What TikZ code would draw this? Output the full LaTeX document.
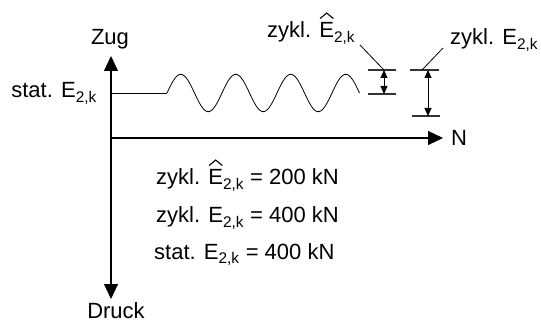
\documentclass[tikz,border=0pt]{standalone}
\usepackage{fontspec}
\setmainfont{Liberation Sans}
\usetikzlibrary{arrows.meta,calc}

% E with a wide hat
\newcommand{\Ehat}{\leavevmode\rlap{\hbox to 0.667em{\hss\raisebox{0.86em}{\tikz[x=1em,y=1em]\draw[line width=0.05em] (0,0) -- (0.3,0.25) -- (0.6,0);}\hss}}E}

\begin{document}
\begin{tikzpicture}[x=1pt,y=-1pt,font=\fontsize{22}{26}\selectfont,
    axis/.style={line width=1.1pt},
    >={Triangle[length=15pt,width=14pt]},
    dimarrow/.style={line width=0.9pt,{Triangle[length=8pt,width=7pt]}-{Triangle[length=8pt,width=7pt]}},
    limit/.style={line width=1.1pt,black!80},
    thin/.style={line width=0.8pt},
    every node/.style={inner sep=1pt}]
  \useasboundingbox (0,0) rectangle (541,323);

  % axes
  \coordinate (O) at (111,138);
  \coordinate (zugtip) at (111,56);
  \coordinate (drucktip) at (111,299);
  \coordinate (ntip) at (443,138);
  \draw[axis,<->] (zugtip) -- (drucktip);
  \draw[axis,->] (O) -- (ntip);
  \node[anchor=base] (zug) at (110,45) {Zug};
  \node[anchor=base] (druck) at (116,318) {Druck};
  \node[anchor=base west] (n) at (450,146) {N};

  % load: static part, then cyclic part
  \coordinate (s0) at (111,93);
  \coordinate (s1) at (167,93);
  \draw[thin] (s0) -- (s1);
  \draw[thin] plot[smooth,samples=120,domain=167:359.5] (\x,{93-18.7*sin(6.54545*(\x-167))});
  \node[anchor=base east] (stat) at (98,98) {stat. E\textsubscript{2,k}};

  % amplitude
  \coordinate (ht) at (384,70);
  \coordinate (hb) at (384,94);
  \draw[limit] ($(ht)+(-16,0)$) -- ++(28,0);
  \draw[limit] ($(hb)+(-16,0)$) -- ++(28,0);
  \draw[dimarrow] (ht) -- (hb);
  \node[anchor=base west] (hatlbl) at (266,38) {zykl. \Ehat\textsubscript{2,k}};
  \coordinate (hatlead) at (360,45);
  \draw[thin] (hatlead) -- (ht);

  % range
  \coordinate (et) at (428,70);
  \coordinate (eb) at (428,116);
  \draw[limit] ($(et)+(-18,0)$) -- ++(29,0);
  \draw[limit] ($(eb)+(-16,0)$) -- ++(28,0);
  \draw[dimarrow] (et) -- (eb);
  \node[anchor=base west] (elbl) at (449,45) {zykl. E\textsubscript{2,k}};
  \coordinate (elead) at (443,48);
  \draw[thin] (elead) -- ($(et)+(-6,0)$);

  % values
  \node[anchor=base west] (v1) at (155,185) {zykl. \Ehat\textsubscript{2,k} = 200 kN};
  \node[anchor=base west] (v2) at (155,223) {zykl. E\textsubscript{2,k} = 400 kN};
  \node[anchor=base west] (v3) at (153,259) {stat. E\textsubscript{2,k} = 400 kN};
\end{tikzpicture}
\end{document}
